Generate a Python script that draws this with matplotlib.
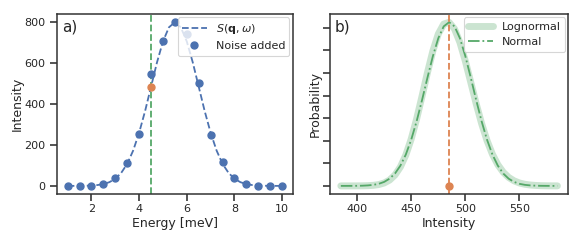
import numpy as np
import matplotlib.pyplot as plt
import seaborn as sns

sns.set_theme(style="ticks", context="paper")

# panel a: energy grid, model S(q,w) and the noisy samples
energy = [1.0, 1.5, 2.0, 2.5, 3.0, 3.5, 4.0, 4.5, 5.0, 5.5,
          6.0, 6.5, 7.0, 7.5, 8.0, 8.5, 9.0, 9.5, 10.0]
model_energy = [1.0, 1.25, 1.5, 1.75, 2.0, 2.25, 2.5, 2.75, 3.0, 3.25,
                3.5, 3.75, 4.0, 4.25, 4.5, 4.75, 5.0, 5.25, 5.5, 5.75,
                6.0, 6.25, 6.5, 6.75, 7.0, 7.25, 7.5, 7.75, 8.0, 8.25,
                8.5, 8.75, 9.0, 9.25, 9.5, 9.75, 10.0]
model_intensity = [0.0, 0.1, 0.3, 0.7, 1.8, 4.1, 8.9, 18.2, 35, 64,
                   108, 173, 260, 366, 485, 604, 706, 775, 800, 775,
                   706, 604, 485, 366, 260, 173, 108, 64, 35, 18.2,
                   8.9, 4.1, 1.8, 0.7, 0.3, 0.1, 0.0]
noisy_intensity = [0, 0, 0, 10, 40, 112, 255, 547, 710, 800,
                   740, 502, 247, 115, 40, 9, 1, 0, 0]
picked_energy = 4.5
picked_intensity = 485

# panel b: distribution of the intensity at the picked energy
intensity = [385, 390, 395, 400, 405, 410, 415, 420, 425, 430,
             435, 440, 445, 450, 455, 460, 465, 470, 475, 480,
             485, 490, 495, 500, 505, 510, 515, 520, 525, 530,
             535, 540, 545, 550, 555, 560, 565, 570, 575, 580, 585]
lognormal_pdf = [0.0001, 0.00025, 0.0009, 0.003, 0.009, 0.025, 0.063, 0.148,
                 0.321, 0.645, 1.206, 2.100, 3.415, 5.196, 7.413, 9.940,
                 12.549, 14.947, 16.824, 17.927, 18.117, 17.390, 15.881,
                 13.818, 11.473, 9.101, 6.908, 5.023, 3.504, 2.347, 1.512,
                 0.938, 0.560, 0.323, 0.180, 0.097, 0.050, 0.025, 0.012,
                 0.006, 0.003]
normal_pdf = [0.0006, 0.0016, 0.004, 0.010, 0.024, 0.054, 0.115, 0.23,
              0.44, 0.80, 1.37, 2.24, 3.47, 5.12, 7.16, 9.51, 11.99,
              14.37, 16.35, 17.67, 18.13, 17.67, 16.35, 14.37, 11.99,
              9.51, 7.16, 5.12, 3.47, 2.24, 1.37, 0.80, 0.44, 0.23,
              0.115, 0.054, 0.024, 0.010, 0.004, 0.0016, 0.0006]

blue, orange, green = "#4C72B0", "#DD8452", "#55A868"

fig = plt.figure(figsize=(5.81, 2.42), dpi=100)
ax1 = fig.add_axes([0.098, 0.198, 0.406, 0.744])
ax2 = fig.add_axes([0.568, 0.198, 0.410, 0.744])

for ax in (ax1, ax2):
    ax.tick_params(labelsize=8, length=5, width=1.1, colors=".15")
    ax.tick_params(axis="x", pad=1.8)
    for s in ax.spines.values():
        s.set_linewidth(1.1)
        s.set_color(".2")

# a)
ax1.axvline(picked_energy, color=green, ls="--", lw=1.3, zorder=1)
ax1.plot(model_energy, model_intensity, "--", color=blue, lw=1.3,
         label=r"$S(\mathbf{q},\omega)$")
ax1.plot(energy, noisy_intensity, "o", color=blue, ms=5, label="Noise added")
ax1.plot([picked_energy], [picked_intensity], "o", color=orange, ms=5)
ax1.set_xlabel("Energy [meV]", fontsize=9)
ax1.set_ylabel("Intensity", fontsize=9)
ax1.xaxis.set_label_coords(0.5, -0.127)
ax1.yaxis.set_label_coords(-0.14, 0.5)
ax1.set_xticks([2, 4, 6, 8, 10])
ax1.set_yticks([0, 200, 400, 600, 800])
ax1.legend(loc="upper right", fontsize=8, handlelength=2.2,
           borderaxespad=0.3)
ax1.text(0.02, 0.97, "a)", transform=ax1.transAxes, fontsize=11,
         va="top", ha="left")

# b)
ax2.plot(intensity, np.array(lognormal_pdf) / 1000, color=green, alpha=0.3,
         lw=5, solid_capstyle="round", label="Lognormal")
ax2.plot(intensity, np.array(normal_pdf) / 1000, "-.", color=green, lw=1.3,
         label="Normal")
ax2.axvline(picked_intensity, color=orange, ls="--", lw=1.3)
ax2.plot([picked_intensity], [0], "o", color=orange, ms=5)
ax2.set_xlabel("Intensity", fontsize=9)
ax2.set_ylabel("Probability", fontsize=9)
ax2.xaxis.set_label_coords(0.5, -0.127)
ax2.yaxis.set_label_coords(-0.035, 0.5)
ax2.set_xticks([400, 450, 500, 550])
ax2.set_yticks(np.arange(0, 0.0176, 0.0025))
ax2.set_yticklabels([])
ax2.legend(loc="upper right", fontsize=8, handlelength=2.2,
           borderaxespad=0.3)
ax2.text(0.02, 0.97, "b)", transform=ax2.transAxes, fontsize=11,
         va="top", ha="left")

fig.savefig("out.png", dpi=100)
